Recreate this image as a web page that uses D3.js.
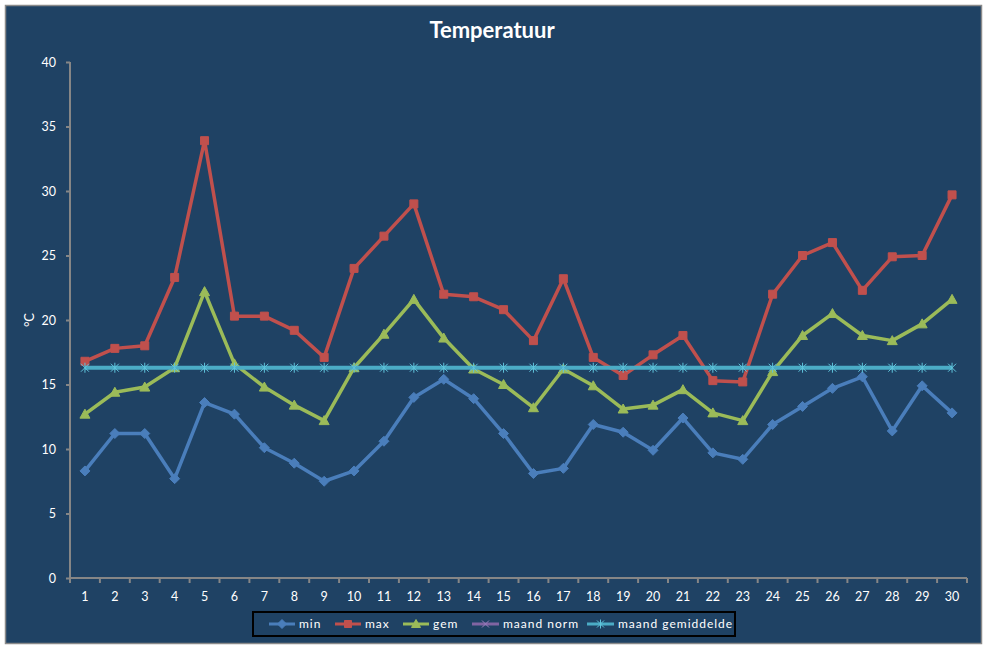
<!DOCTYPE html>
<html><head><meta charset="utf-8">
<script src="https://cdn.jsdelivr.net/npm/d3@7"></script>
<style>
html,body{margin:0;padding:0;background:#fff;}
svg{display:block;font-family:Lato,"Open Sans",sans-serif;}
</style></head>
<body><svg id="c" width="987" height="648"></svg>
<script>
const days = d3.range(1, 31).map(String);
const minT = [8.3,11.2,11.2,7.7,13.6,12.7,10.1,8.9,7.5,8.3,10.6,14.0,15.4,13.9,11.2,8.1,8.5,11.9,11.3,9.9,12.4,9.7,9.2,11.9,13.3,14.7,15.6,11.4,14.9,12.8];
const maxT = [16.8,17.8,18.0,23.3,33.9,20.3,20.3,19.2,17.1,24.0,26.5,29.0,22.0,21.8,20.8,18.4,23.2,17.1,15.7,17.3,18.8,15.3,15.2,22.0,25.0,26.0,22.3,24.9,25.0,29.7];
const gemT = [12.7,14.4,14.8,16.3,22.2,16.6,14.8,13.4,12.2,16.3,18.9,21.6,18.6,16.2,15.0,13.2,16.2,14.9,13.1,13.4,14.6,12.8,12.2,16.0,18.8,20.5,18.8,18.4,19.7,21.6];
const maandNorm = [];
const maandGem = Array(30).fill(16.3);
const yTicks = [0,5,10,15,20,25,30,35,40];
const title = "Temperatuur";
const yLabel = "°C";

const series = [
  {name:"min", values:minT, color:"#4A7EBB", marker:"diamond"},
  {name:"max", values:maxT, color:"#C0504D", marker:"square"},
  {name:"gem", values:gemT, color:"#9BBB59", marker:"triangle"},
  {name:"maand norm", values:maandNorm, color:"#8064A2", marker:"x"},
  {name:"maand gemiddelde", values:maandGem, color:"#4BACC6", marker:"star"}
];

const svg = d3.select("#c");
const bg = "#1F4264";
svg.append("rect").attr("x",5.5).attr("y",5.5).attr("width",976).attr("height",638)
  .attr("fill",bg).attr("stroke","#8a8a8a").attr("stroke-width",1.5);

const x = d3.scaleBand().domain(days).range([70, 967]).padding(0);
const y = d3.scaleLinear().domain([0, 40]).range([578, 62]);
const cx = d => x(d) + x.bandwidth()/2;

// title
svg.append("text").attr("x", 492).attr("y", 38).attr("text-anchor","middle")
  .attr("fill","#fff").attr("font-size",22).attr("font-weight","bold").text(title);

// y axis
const ya = svg.append("g").attr("transform","translate(70,0)")
  .call(d3.axisLeft(y).tickValues(yTicks).tickSize(4).tickPadding(10));
ya.selectAll("path,line").attr("stroke","#868686").attr("stroke-width",2);
ya.select(".domain").attr("d","M0,"+y(0)+"V"+y(40));
ya.selectAll("text").attr("fill","#fff").attr("font-size",12.5).attr("font-family","Lato,'Open Sans',sans-serif");

svg.append("text").attr("transform","translate(34,320) rotate(-90)").attr("text-anchor","middle")
  .attr("fill","#fff").attr("font-size",13).text(yLabel);

// x axis
const xa = svg.append("g").attr("transform","translate(0,578)")
  .call(d3.axisBottom(x).tickSize(0).tickPadding(14));
xa.select(".domain").attr("stroke","#868686").attr("stroke-width",2).attr("d","M70,0H967");
xa.selectAll("text").attr("fill","#fff").attr("font-size",12.5).attr("font-family","Lato,'Open Sans',sans-serif");
const edges = days.map(d => x(d)).concat([x(days[days.length-1]) + x.bandwidth()]);
svg.append("g").selectAll("line").data(edges).join("line")
  .attr("x1",d=>d).attr("x2",d=>d).attr("y1",578).attr("y2",583)
  .attr("stroke","#868686").attr("stroke-width",2);

function markerPath(type, s){
  const h = s/2;
  switch(type){
    case "diamond": return `M0,${-h-1}L${h+1},0L0,${h+1}L${-h-1},0Z`;
    case "square": return `M${-h},${-h}H${h}V${h}H${-h}Z`;
    case "triangle": return `M0,${-h-1}L${h+1},${h}L${-h-1},${h}Z`;
    case "x": return `M${-h},${-h}L${h},${h}M${-h},${h}L${h},${-h}`;
    case "star": return `M${-h},${-h}L${h},${h}M${-h},${h}L${h},${-h}M0,${-h-1}V${h+1}`;
  }
}

const line = d3.line().x((v,i)=>cx(days[i])).y(v=>y(v));
series.forEach(s=>{
  if(!s.values.length) return;
  const g = svg.append("g");
  g.append("path").attr("d", line(s.values)).attr("fill","none")
    .attr("stroke", s.color).attr("stroke-width", s.marker==="star"?4:3.5).attr("stroke-linejoin","round");
  const open = s.marker==="x"||s.marker==="star";
  g.selectAll("path.m").data(s.values).join("path").attr("class","m")
    .attr("transform",(v,i)=>`translate(${cx(days[i])},${y(v)})`)
    .attr("d", markerPath(s.marker, 8))
    .attr("fill", open?"none":s.color)
    .attr("stroke", open?"#5fc4dc":s.color).attr("stroke-width", 1);
});

// legend
const lg = svg.append("g");
lg.append("rect").attr("x",253).attr("y",612).attr("width",482).attr("height",24)
  .attr("fill","none").attr("stroke","#000").attr("stroke-width",2);
const legX = [[269,299],[335,365],[403,433],[472,503],[587,618]];
series.forEach((s,i)=>{
  const [lx, tx] = legX[i];
  const ly = 624;
  lg.append("line").attr("x1",lx).attr("x2",tx-4).attr("y1",ly).attr("y2",ly)
    .attr("stroke",s.color).attr("stroke-width",3);
  const open = s.marker==="x"||s.marker==="star";
  lg.append("path").attr("transform",`translate(${(lx+tx-4)/2},${ly})`)
    .attr("d", markerPath(s.marker, 7))
    .attr("fill", open?"none":s.color)
    .attr("stroke", open?(s.marker==="x"?"#9b7fc0":"#5fc4dc"):s.color).attr("stroke-width",1);
  lg.append("text").attr("x",tx).attr("y",ly+4).attr("fill","#fff").attr("font-size",12)
    .attr("letter-spacing","1px").text(s.name);
});
</script></body></html>
